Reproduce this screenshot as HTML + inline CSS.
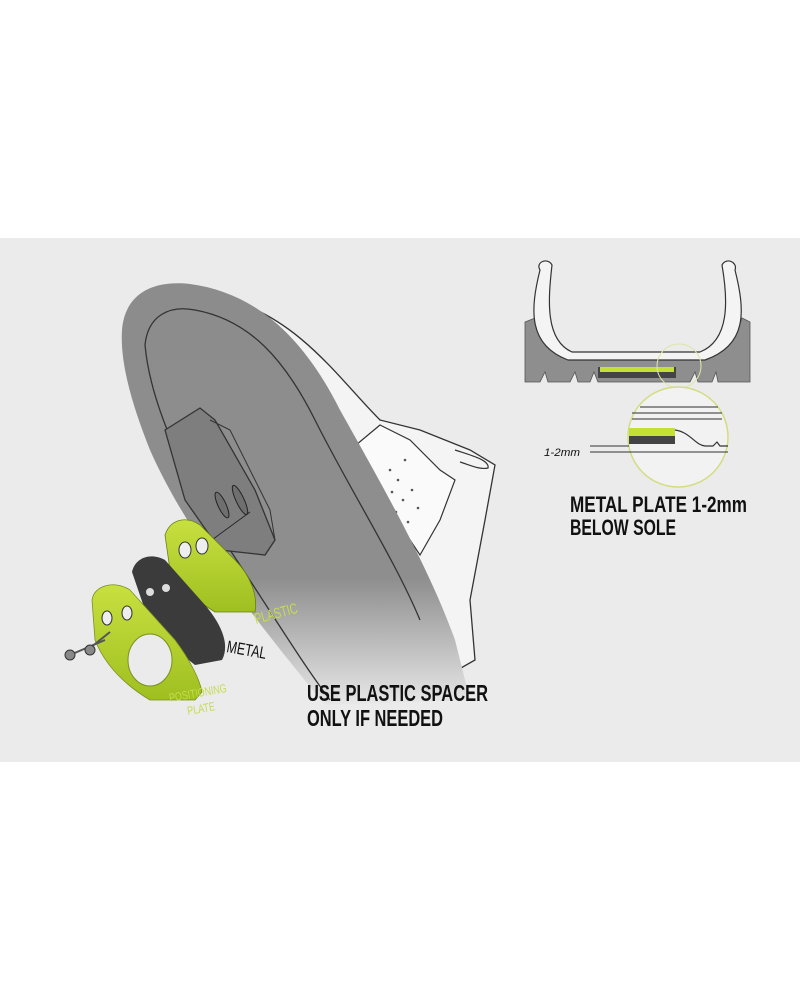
<!DOCTYPE html>
<html><head><meta charset="utf-8"><style>
html,body{margin:0;padding:0;background:#fff;}
svg{display:block}
.t{font-family:"Liberation Sans",sans-serif;font-weight:bold;fill:#111;}
</style></head><body>
<svg width="800" height="1000" viewBox="0 0 800 1000" xmlns="http://www.w3.org/2000/svg">
<defs>
<linearGradient id="sole" x1="0" y1="0" x2="0" y2="1">
<stop offset="0" stop-color="#8c8c8c"/><stop offset="0.7" stop-color="#8e8e8e"/><stop offset="1" stop-color="#e8e8e8"/>
</linearGradient>
<linearGradient id="gr" x1="0" y1="0" x2="0" y2="1"><stop offset="0" stop-color="#c8e040"/><stop offset="1" stop-color="#9fbf20"/></linearGradient>
</defs>
<rect x="0" y="238" width="800" height="524" fill="#ebebeb"/>
<path d="M230 300 C300 320 340 380 380 420 L420 430 L470 450 L495 465 L485 520 L470 600 L475 660 L440 680 Z" fill="#f4f4f4" stroke="#333" stroke-width="1.3"/>
<path d="M350 450 L380 425 L410 440 L440 470 L455 480 L440 520 L420 555 Z" fill="#fafafa" stroke="#333" stroke-width="1.2"/>
<g fill="#555">
<circle cx="390" cy="470" r="1.3"/><circle cx="398" cy="480" r="1.3"/><circle cx="392" cy="492" r="1.3"/><circle cx="403" cy="500" r="1.3"/><circle cx="396" cy="512" r="1.3"/><circle cx="408" cy="522" r="1.3"/><circle cx="412" cy="490" r="1.3"/><circle cx="418" cy="508" r="1.3"/><circle cx="405" cy="460" r="1.3"/>
</g>
<path d="M455 450 C470 455 490 460 488 468 C480 470 470 465 460 462" fill="none" stroke="#333" stroke-width="1.2"/>
<path d="M122 330 C125 292 155 280 190 284 C250 292 300 330 340 410 C385 490 430 570 455 640 L470 700 L325 705 C255 620 185 530 150 450 C130 400 120 360 122 330 Z" fill="url(#sole)"/>
<path d="M145 345 C148 315 170 305 195 310 C250 320 285 360 315 420 C350 490 395 560 420 620" fill="none" stroke="#333" stroke-width="1.3"/>
<path d="M145 345 C150 400 180 470 230 550 C270 610 300 660 330 700" fill="none" stroke="#333" stroke-width="1.3"/>
<path d="M165 430 L200 408 L215 420 L255 490 L275 540 L265 555 L220 550 L185 500 Z" fill="#7e7e7e" stroke="#333" stroke-width="1.3"/>
<path d="M210 420 L230 430 L270 510 L275 540" fill="none" stroke="#333" stroke-width="1"/>
<ellipse cx="222" cy="505" rx="4" ry="14" transform="rotate(-25 222 505)" fill="#6f6f6f" stroke="#222"/>
<ellipse cx="240" cy="500" rx="4" ry="16" transform="rotate(-25 240 500)" fill="#6f6f6f" stroke="#222"/>
<line x1="205" y1="545" x2="250" y2="512" stroke="#222" stroke-width="0.8"/>
<path d="M165 535 C170 520 185 515 200 525 L235 560 C250 575 258 595 255 612 L215 612 C195 600 180 585 170 570 Z" fill="url(#gr)" stroke="#6a8010" stroke-width="0.8"/>
<ellipse cx="185" cy="550" rx="6" ry="8" fill="#eee" stroke="#333"/>
<ellipse cx="202" cy="546" rx="6" ry="8" fill="#eee" stroke="#333"/>
<path d="M132 572 C135 558 150 552 165 560 L205 605 C222 625 230 645 222 660 L195 665 C175 650 160 630 145 610 Z" fill="#3b3b3b"/>
<circle cx="150" cy="592" r="4" fill="#ddd"/><circle cx="166" cy="588" r="4" fill="#ddd"/>
<path d="M92 600 C94 585 115 580 130 590 L175 640 C190 660 200 680 202 692 L195 700 L150 700 C125 685 105 665 95 640 Z" fill="url(#gr)" stroke="#7a9020" stroke-width="0.8"/>
<ellipse cx="150" cy="660" rx="22" ry="26" fill="#ebebeb" stroke="#7a9020"/>
<ellipse cx="107" cy="618" rx="5" ry="7" fill="#eee" stroke="#333"/><ellipse cx="127" cy="613" rx="5" ry="7" fill="#eee" stroke="#333"/>
<line x1="70" y1="655" x2="105" y2="640" stroke="#555" stroke-width="2"/>
<line x1="90" y1="648" x2="110" y2="632" stroke="#555" stroke-width="2"/>
<circle cx="70" cy="655" r="5" fill="#888" stroke="#333"/><circle cx="90" cy="650" r="5" fill="#888" stroke="#333"/>
<text x="226" y="652" font-family="Liberation Sans,sans-serif" font-size="17" fill="#111" textLength="40" lengthAdjust="spacingAndGlyphs" transform="rotate(10 226 652)">METAL</text>
<text x="256" y="624" font-family="Liberation Sans,sans-serif" font-size="15" fill="#c5dc50" textLength="44" lengthAdjust="spacingAndGlyphs" transform="rotate(-15 256 624)">PLASTIC</text>
<text x="170" y="702" font-family="Liberation Sans,sans-serif" font-size="12" fill="#c5dc50" textLength="58" lengthAdjust="spacingAndGlyphs" transform="rotate(-10 170 702)">POSITIONING</text>
<text x="188" y="715" font-family="Liberation Sans,sans-serif" font-size="12" fill="#c5dc50" textLength="28" lengthAdjust="spacingAndGlyphs" transform="rotate(-10 188 715)">PLATE</text>
<path d="M525 322 L535 318 C540 340 548 350 570 355 L700 355 C725 350 735 340 742 318 L750 322 L750 382 L718 382 L716 372 L712 382 L698 382 L695 372 L690 382 L598 382 L594 372 L590 382 L578 382 L575 372 L570 382 L548 382 L545 372 L540 382 L525 382 Z" fill="#8e8e8e" stroke="#555" stroke-width="0.8"/>
<path d="M540 270 C535 262 548 257 552 265 C548 300 545 340 572 352 L700 352 C730 340 728 300 722 265 C726 257 738 262 735 270 C745 310 748 345 705 360 L568 360 C528 345 530 310 540 270 Z" fill="#f4f4f4" stroke="#333" stroke-width="1.2"/>
<rect x="598" y="367" width="78" height="11" fill="#444"/>
<rect x="600" y="367" width="74" height="5" fill="#c5e035"/>
<circle cx="679" cy="366" r="22" fill="none" stroke="#dfe6a6" stroke-width="1"/>
<circle cx="678" cy="437" r="50" fill="#f2f2f2" stroke="#d4dc80" stroke-width="1.5"/>
<path d="M640 407 L718 407 M632 413 L722 413 M632 419 L722 419" stroke="#555" stroke-width="1.2"/>
<rect x="629" y="428" width="46" height="16" fill="#c5e035"/><rect x="629" y="436" width="46" height="8" fill="#444"/>
<path d="M675 430 C690 432 695 445 705 446 L713 446 L717 442 L720 446 L728 446" fill="none" stroke="#333" stroke-width="1.2"/>
<line x1="590" y1="446" x2="629" y2="446" stroke="#333"/><line x1="590" y1="452" x2="728" y2="452" stroke="#333"/>
<text x="544" y="456" font-family="Liberation Sans,sans-serif" font-size="11" font-style="italic" fill="#111" textLength="36" lengthAdjust="spacingAndGlyphs">1-2mm</text>
<text x="570" y="512" class="t" font-size="22" textLength="177" lengthAdjust="spacingAndGlyphs">METAL PLATE 1-2mm</text>
<text x="570" y="535" class="t" font-size="22" textLength="106" lengthAdjust="spacingAndGlyphs">BELOW SOLE</text>
<text x="307" y="701" class="t" font-size="23" textLength="181" lengthAdjust="spacingAndGlyphs">USE PLASTIC SPACER</text>
<text x="307" y="726" class="t" font-size="23" textLength="136" lengthAdjust="spacingAndGlyphs">ONLY IF NEEDED</text>
</svg>
</body></html>
